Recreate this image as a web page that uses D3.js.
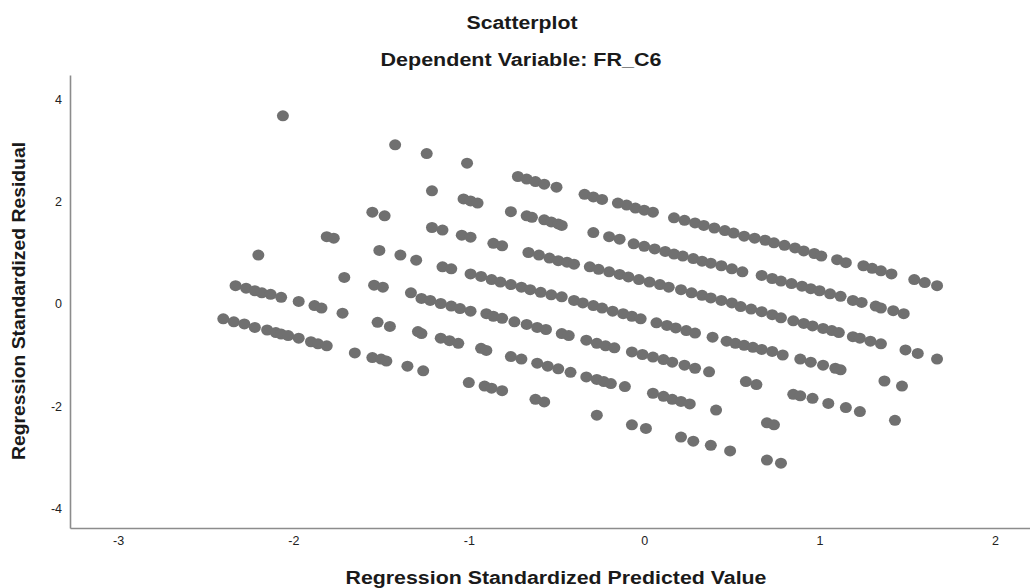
<html>
  <head>
    <meta charset="utf-8">
    <script type="text/javascript" src="https://cdn.jsdelivr.net/npm/d3@7/dist/d3.min.js"></script>
    <style>
      body { margin: 0; background: #fff; }
      text { font-family: "Liberation Sans", Arial, sans-serif; }
    </style>
    <script type="text/javascript">

    // each band: [standardized predicted, standardized residual]
    var band0 = [[-2.06,3.69],[-1.42,3.12],[-1.24,2.95],[-1.01,2.76]];
    var band1 = [[-0.72,2.50],[-0.67,2.45],[-0.62,2.40],[-0.57,2.35],[-0.50,2.29],
                 [-0.34,2.15],[-0.29,2.10],[-0.24,2.05],[-0.15,1.98],[-0.10,1.94],
                 [-0.05,1.88],[0.00,1.84],[0.05,1.80],[0.17,1.69],[0.23,1.64],
                 [0.29,1.59],[0.34,1.54],[0.40,1.49],[0.46,1.44],[0.51,1.39],
                 [0.57,1.33],[0.63,1.29],[0.69,1.25],[0.74,1.20],[0.80,1.15],
                 [0.86,1.10],[0.91,1.04],[0.97,0.99],[1.01,0.94],[1.10,0.87],
                 [1.15,0.81],[1.25,0.75],[1.30,0.70],[1.35,0.65],[1.41,0.59],
                 [1.54,0.48],[1.60,0.42],[1.67,0.36]];
    var band2 = [[-1.21,2.22],[-1.03,2.06],[-0.99,2.02],[-0.95,1.98],[-0.76,1.81],
                 [-0.67,1.73],[-0.64,1.70],[-0.57,1.65],[-0.53,1.61],[-0.49,1.57],
                 [-0.47,1.54],[-0.29,1.40],[-0.20,1.32],[-0.14,1.27],[-0.06,1.18],
                 [0.00,1.13],[0.06,1.08],[0.12,1.03],[0.17,0.98],[0.22,0.94],
                 [0.28,0.89],[0.33,0.84],[0.38,0.80],[0.44,0.75],[0.50,0.69],
                 [0.56,0.63],[0.67,0.56],[0.73,0.50],[0.78,0.45],[0.84,0.40],
                 [0.90,0.35],[0.95,0.30],[1.00,0.26],[1.06,0.20],[1.12,0.15],
                 [1.19,0.07],[1.24,0.03],[1.32,-0.04],[1.35,-0.08],[1.42,-0.13],
                 [1.48,-0.19]];
    var band3 = [[-1.55,1.80],[-1.48,1.73],[-1.21,1.50],[-1.15,1.45],[-1.04,1.35],
                 [-0.99,1.31],[-0.86,1.19],[-0.81,1.14],[-0.66,1.01],[-0.60,0.96],
                 [-0.54,0.90],[-0.49,0.85],[-0.44,0.82],[-0.40,0.78],[-0.31,0.73],
                 [-0.26,0.68],[-0.20,0.63],[-0.14,0.58],[-0.09,0.53],[-0.03,0.48],
                 [0.03,0.43],[0.09,0.38],[0.14,0.33],[0.21,0.28],[0.27,0.22],
                 [0.33,0.17],[0.38,0.12],[0.44,0.07],[0.50,0.02],[0.55,-0.05],
                 [0.61,-0.10],[0.67,-0.15],[0.73,-0.21],[0.78,-0.27],[0.85,-0.33],
                 [0.91,-0.38],[0.96,-0.43],[1.02,-0.48],[1.07,-0.52],[1.11,-0.56],
                 [1.19,-0.64],[1.23,-0.67],[1.29,-0.73],[1.35,-0.78],[1.49,-0.90],
                 [1.56,-0.97],[1.67,-1.08]];
    var band4 = [[-1.81,1.32],[-1.77,1.29],[-1.51,1.05],[-1.39,0.96],[-1.30,0.86],
                 [-1.15,0.73],[-1.10,0.69],[-0.99,0.59],[-0.93,0.54],[-0.87,0.48],
                 [-0.82,0.43],[-0.76,0.38],[-0.70,0.33],[-0.65,0.28],[-0.59,0.23],
                 [-0.53,0.18],[-0.47,0.14],[-0.40,0.07],[-0.35,0.02],[-0.29,-0.03],
                 [-0.24,-0.08],[-0.18,-0.14],[-0.12,-0.19],[-0.07,-0.24],[-0.02,-0.29],
                 [0.07,-0.37],[0.13,-0.42],[0.18,-0.47],[0.24,-0.52],[0.29,-0.57],
                 [0.39,-0.65],[0.47,-0.73],[0.52,-0.77],[0.57,-0.81],[0.62,-0.85],
                 [0.67,-0.89],[0.73,-0.93],[0.79,-1.00],[0.89,-1.08],[0.95,-1.14],
                 [1.02,-1.20],[1.09,-1.26],[1.12,-1.29],[1.37,-1.51],[1.47,-1.61]];
    var band5 = [[-2.20,0.96],[-1.71,0.52],[-1.54,0.37],[-1.49,0.33],[-1.33,0.22],
                 [-1.27,0.11],[-1.22,0.07],[-1.16,0.01],[-1.10,-0.04],[-1.05,-0.09],
                 [-0.99,-0.14],[-0.90,-0.19],[-0.86,-0.24],[-0.81,-0.28],[-0.74,-0.35],
                 [-0.67,-0.40],[-0.61,-0.46],[-0.56,-0.50],[-0.47,-0.58],[-0.43,-0.62],
                 [-0.33,-0.71],[-0.27,-0.77],[-0.22,-0.82],[-0.17,-0.86],[-0.07,-0.94],
                 [-0.01,-0.99],[0.05,-1.04],[0.11,-1.09],[0.16,-1.14],[0.23,-1.20],
                 [0.29,-1.26],[0.37,-1.33],[0.58,-1.52],[0.64,-1.58],[0.85,-1.77],
                 [0.89,-1.80],[0.96,-1.85],[1.05,-1.95],[1.15,-2.03],[1.23,-2.11],
                 [1.43,-2.28]];
    var band6 = [[-2.33,0.36],[-2.27,0.31],[-2.22,0.26],[-2.18,0.22],[-2.13,0.19],
                 [-2.07,0.13],[-1.97,0.05],[-1.88,-0.03],[-1.84,-0.08],[-1.72,-0.18],
                 [-1.52,-0.36],[-1.45,-0.44],[-1.29,-0.54],[-1.27,-0.58],[-1.16,-0.67],
                 [-1.11,-0.72],[-1.06,-0.77],[-0.93,-0.87],[-0.90,-0.91],[-0.76,-1.03],
                 [-0.70,-1.08],[-0.61,-1.16],[-0.55,-1.22],[-0.49,-1.27],[-0.42,-1.34],
                 [-0.33,-1.43],[-0.27,-1.48],[-0.23,-1.52],[-0.19,-1.56],[-0.11,-1.62],
                 [0.05,-1.75],[0.11,-1.81],[0.16,-1.87],[0.21,-1.91],[0.26,-1.96],
                 [0.41,-2.08],[0.70,-2.33],[0.74,-2.37]];
    var band7 = [[-2.40,-0.29],[-2.34,-0.35],[-2.28,-0.39],[-2.22,-0.46],[-2.15,-0.51],
                 [-2.10,-0.56],[-2.07,-0.59],[-2.03,-0.62],[-1.97,-0.67],[-1.90,-0.74],
                 [-1.86,-0.78],[-1.81,-0.82],[-1.65,-0.96],[-1.55,-1.05],[-1.50,-1.08],
                 [-1.47,-1.12],[-1.35,-1.22],[-1.26,-1.31],[-1.00,-1.54],[-0.91,-1.61],
                 [-0.87,-1.65],[-0.81,-1.70],[-0.62,-1.87],[-0.57,-1.92],[-0.27,-2.18],
                 [-0.07,-2.37],[0.01,-2.44],[0.21,-2.61],[0.28,-2.69],[0.38,-2.77],
                 [0.49,-2.88],[0.70,-3.06],[0.78,-3.12]];

    var xTicks = [-3, -2, -1, 0, 1, 2];
    var yTicks = [-4, -2, 0, 2, 4];

    var chartTitle = "Scatterplot";
    var chartSubtitle = "Dependent Variable: FR_C6";
    var xTitle = "Regression Standardized Predicted Value";
    var yTitle = "Regression Standardized Residual";

    function allPoints(){
      var bands = [band0, band1, band2, band3, band4, band5, band6, band7];
      var pts = [];
      for(var i = 0; i < bands.length; i++){
        for(var j = 0; j < bands[i].length; j++){
          pts.push(bands[i][j]);
        }
      }
      return pts;
    }

    // plain hyphen for negatives, like the original
    function tickText(d){
      return String(d);
    }

    function drawChart(){
      var width = 1030, height = 588;
      var left = 70, right = 1030, top = 75, bottom = 528;

      var svg = d3.select("body").append("svg")
                  .attr("width", width)
                  .attr("height", height);

      var x = d3.scaleLinear().domain([-3.274, 2.2]).range([left, right]);
      var y = d3.scaleLinear().domain([-4.392, 4.49]).range([bottom, top]);

      // titles
      svg.append("text")
         .attr("x", 522).attr("y", 29)
         .attr("text-anchor", "middle")
         .attr("font-size", 18).attr("font-weight", "bold")
         .attr("textLength", 111).attr("lengthAdjust", "spacingAndGlyphs")
         .attr("fill", "#1a1a1a")
         .text(chartTitle);
      svg.append("text")
         .attr("x", 521).attr("y", 66)
         .attr("text-anchor", "middle")
         .attr("font-size", 18).attr("font-weight", "bold")
         .attr("textLength", 281).attr("lengthAdjust", "spacingAndGlyphs")
         .attr("fill", "#1a1a1a")
         .text(chartSubtitle);

      // axes
      var xAxis = d3.axisBottom(x).tickValues(xTicks).tickSize(0).tickPadding(8)
                    .tickFormat(tickText);
      var yAxis = d3.axisLeft(y).tickValues(yTicks).tickSize(0).tickPadding(8)
                    .tickFormat(tickText);

      var gx = svg.append("g").attr("transform", "translate(0," + bottom + ")").call(xAxis);
      var gy = svg.append("g").attr("transform", "translate(" + left + ",0)").call(yAxis);

      [gx, gy].forEach(function(g){
        g.select(".domain").attr("stroke", "#8c8c8c").attr("stroke-width", 1.6);
        g.selectAll("text")
         .attr("font-family", "'Liberation Sans', Arial, sans-serif")
         .attr("font-size", 12.5)
         .attr("fill", "#222");
      });

      svg.append("text")
         .attr("x", 556).attr("y", 584)
         .attr("text-anchor", "middle")
         .attr("font-size", 18).attr("font-weight", "bold")
         .attr("textLength", 421).attr("lengthAdjust", "spacingAndGlyphs")
         .attr("fill", "#1a1a1a")
         .text(xTitle);
      svg.append("text")
         .attr("transform", "translate(25,301) rotate(-90)")
         .attr("text-anchor", "middle")
         .attr("font-size", 18).attr("font-weight", "bold")
         .attr("textLength", 318).attr("lengthAdjust", "spacingAndGlyphs")
         .attr("fill", "#1a1a1a")
         .text(yTitle);

      // points
      svg.append("g").selectAll("ellipse")
         .data(allPoints())
         .enter()
         .append("ellipse")
         .attr("cx", function(d){ return x(d[0]); })
         .attr("cy", function(d){ return y(d[1]); })
         .attr("rx", 6)
         .attr("ry", 5.5)
         .attr("fill", "#707070");
    }

    window.onload = function(){
      drawChart();
    }
    </script>
  </head>
  <body>
  </body>
</html>
